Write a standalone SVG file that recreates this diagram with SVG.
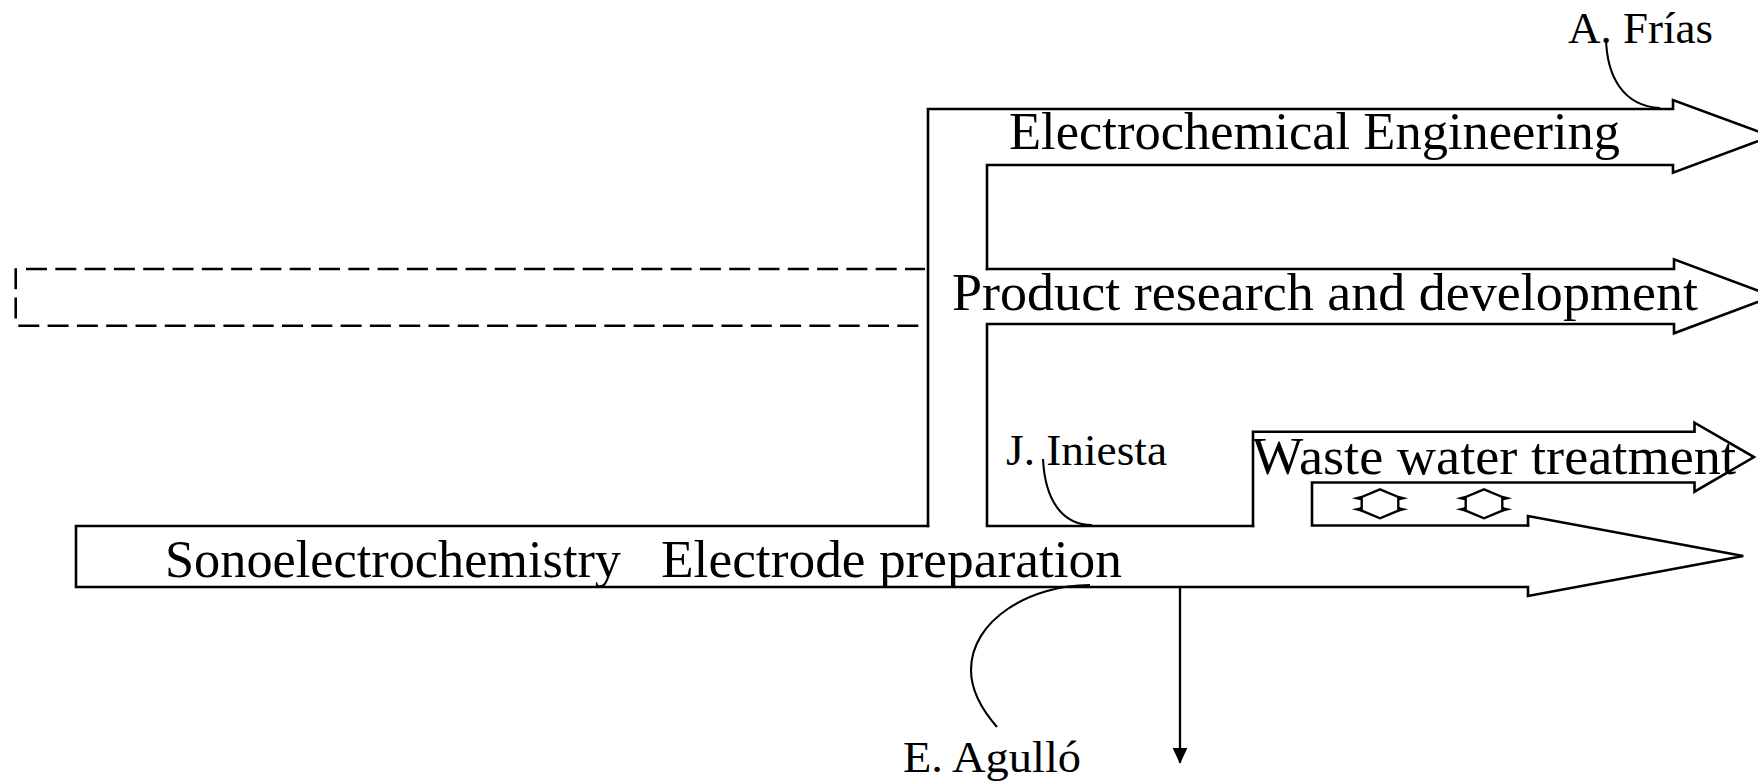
<svg xmlns="http://www.w3.org/2000/svg" xmlns:xlink="http://www.w3.org/1999/xlink" width="1758" height="784" viewBox="0 0 1758 784">
<style>
.out{fill:none;stroke:#000;stroke-width:2.6;stroke-linejoin:miter;stroke-linecap:square}
.dash{fill:none;stroke:#000;stroke-width:2.6;stroke-dasharray:21 8.3}
.con{fill:none;stroke:#000;stroke-width:2.1}
.big{font-family:"Liberation Serif","Times New Roman",serif;font-size:52.5px;fill:#000}
.small{font-family:"Liberation Serif","Times New Roman",serif;font-size:44.5px;fill:#000}
.hx{fill:none;stroke:#000;stroke-width:2.4}
</style>
<defs>
<g id="hex">
<polygon class="hx" points="0,-14.5 18.3,-6.8 18.3,6.8 0,14.5 -18.3,6.8 -18.3,-6.8"/>
<polygon points="-28.3,-5.5 -18.3,-8 -18.3,-3.3" fill="#000"/>
<polygon points="-28.3,5.5 -18.3,3.3 -18.3,8" fill="#000"/>
<polygon points="28.3,-5.5 18.3,-8 18.3,-3.3" fill="#000"/>
<polygon points="28.3,5.5 18.3,3.3 18.3,8" fill="#000"/>
</g>
<marker id="ah" markerWidth="16" markerHeight="16" refX="15" refY="7.5" orient="auto" markerUnits="userSpaceOnUse">
<path d="M0,0 L16,7.5 L0,15 Z" fill="#000"/>
</marker>
</defs>
<rect width="1758" height="784" fill="#fff"/>

<g id="dashed-box">
<line class="dash" x1="26" y1="269" x2="925" y2="269"/>
<line class="dash" x1="18.3" y1="325.7" x2="925" y2="325.7"/>
<line class="dash" x1="15.7" y1="268.3" x2="15.7" y2="325"/>
</g>

<g id="electrochemical-engineering">
<path class="out" d="M928,526 L928,109 L1673,109 L1673,100 L1771,136.3 L1673,172.7 L1673,165 L987,165 L987,269"/>
<text class="big" x="1009" y="149" textLength="611" lengthAdjust="spacingAndGlyphs">Electrochemical Engineering</text>
</g>

<g id="product-research">
<path class="out" d="M987,269 L1674,269 L1674,259.3 L1773,296.3 L1674,333.3 L1674,324 L987,324 L987,526 L1253,526"/>
<text class="big" x="952" y="310" textLength="746" lengthAdjust="spacingAndGlyphs">Product research and development</text>
</g>

<g id="waste-water">
<path class="out" d="M1253,526 L1253,431.7 L1694.5,431.7 L1694.5,422.7 L1754,457 L1694.5,491.7 L1694.5,482.5 L1312,482.5 L1312,525.5 L1528,525.5"/>
<text class="big" x="1252" y="474" textLength="484" lengthAdjust="spacingAndGlyphs">Waste water treatment</text>
<use xlink:href="#hex" x="1380" y="503.8"/>
<use xlink:href="#hex" x="1484" y="503.8"/>
</g>

<g id="main-flow">
<path class="out" d="M1528,525.5 L1528,516 L1743.3,556 L1528,596 L1528,587 L76,587 L76,526 L928,526"/>
<text class="big" x="165" y="577" textLength="456" lengthAdjust="spacingAndGlyphs">Sonoelectrochemistry</text>
<text class="big" x="661" y="577" textLength="461" lengthAdjust="spacingAndGlyphs">Electrode preparation</text>
</g>

<g id="label-frias">
<text class="small" x="1568" y="43" textLength="145" lengthAdjust="spacingAndGlyphs">A. Frías</text>
</g>
<g id="label-iniesta">
<text class="small" x="1006" y="465" textLength="161" lengthAdjust="spacingAndGlyphs">J. Iniesta</text>
</g>
<g id="label-agullo">
<text class="small" x="903" y="772" textLength="178" lengthAdjust="spacingAndGlyphs">E. Agulló</text>
</g>

<g id="connectors">
<path class="con" d="M1606,39 C1607,75 1622,106 1660,108"/>
<path class="con" d="M1043,459 C1045,500 1062,525 1092,525"/>
<path class="con" d="M997,727 C983,711 971,692 971,670 C971,620 1030,585 1090,585"/>
<line x1="1180" y1="587" x2="1180" y2="762.7" stroke="#000" stroke-width="2.3" marker-end="url(#ah)"/>
</g>
</svg>
